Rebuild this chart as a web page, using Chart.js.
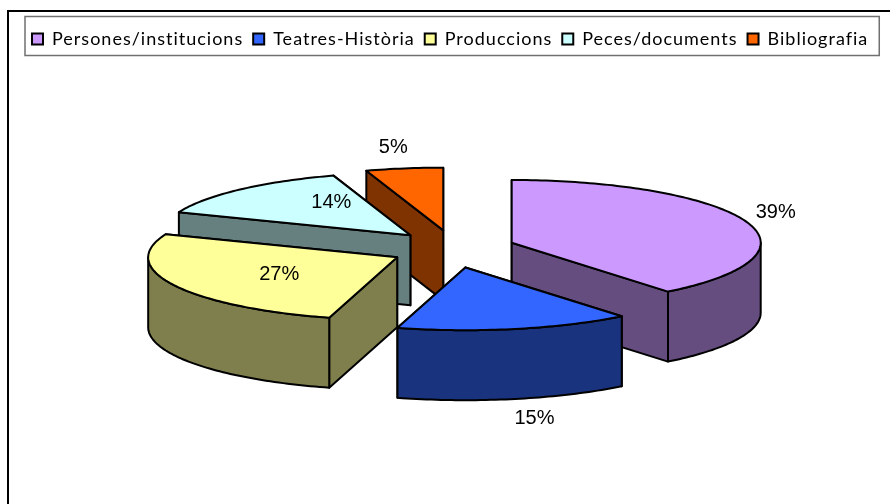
<!DOCTYPE html>
<html><head><meta charset="utf-8">
<style>html,body{margin:0;padding:0;background:#fff}canvas{display:block}</style>
<script src="https://cdn.jsdelivr.net/npm/chart.js@4"></script>
</head><body><canvas id="c" width="890" height="504"></canvas>
<script>
const categories = ['Persones/institucions','Teatres-Història','Produccions','Peces/documents','Bibliografia'];
const values = [39.2,15.2,26.6,14,5];
const topColors = ['#CC99FF','#3366FF','#FFFF99','#CCFFFF','#FF6600'];
const sideColors = ['#664D7F','#19337F','#7F7F4D','#667F7F','#7F3300'];
const labelOffsets = [[264,-30],[69,151],[-118,17],[-79,-33],[-50,-83]];

const RADIUS = 249, TILT = 0.252, DEPTH = 70, EXPLODE_Y = 1.2;

function sliceGeo(el){
  const p = el.getProps(['x','y','startAngle','endAngle','outerRadius'], true);
  const mid = (p.startAngle + p.endAngle)/2;
  const off = (el.options.offset||0)/4;
  const cx = p.x + Math.cos(mid)*off;
  const cy = p.y + Math.sin(mid)*off*TILT*EXPLODE_Y;
  return {cx,cy,r:p.outerRadius,a:p.startAngle,b:p.endAngle};
}
function pt(g,ang,drop){return [g.cx+Math.cos(ang)*g.r, g.cy+Math.sin(ang)*g.r*TILT+(drop||0)];}
function poly(ctx,pts,fill){
  ctx.beginPath();
  pts.forEach((q,i)=> i?ctx.lineTo(q[0],q[1]):ctx.moveTo(q[0],q[1]));
  ctx.closePath();
  ctx.fillStyle=fill;ctx.fill();ctx.stroke();
}
function arcPts(g,a,b,drop){
  const out=[];const n=Math.max(2,Math.ceil((b-a)/0.02));
  for(let i=0;i<=n;i++)out.push(pt(g,a+(b-a)*i/n,drop));
  return out;
}
function drawSlice(ctx,g,i){
  const side=sideColors[i];
  const walls=[g.a,g.b].map(ang=>({ang,y:pt(g,ang)[1]})).sort((u,v)=>u.y-v.y);
  walls.forEach(w=>{
    const e=pt(g,w.ang);
    poly(ctx,[[g.cx,g.cy],e,[e[0],e[1]+DEPTH],[g.cx,g.cy+DEPTH]],side);
  });
  const TWO=Math.PI*2;
  for(let k=-1;k<=1;k++){
    const lo=Math.max(g.a,k*TWO), hi=Math.min(g.b,k*TWO+Math.PI);
    if(hi>lo){
      const topEdge=arcPts(g,lo,hi,0), botEdge=arcPts(g,lo,hi,DEPTH).reverse();
      poly(ctx,topEdge.concat(botEdge),side);
    }
  }
  poly(ctx,[[g.cx,g.cy]].concat(arcPts(g,g.a,g.b,0)),topColors[i]);
}
const LETTER='1px';
const pie3d={
  id:'pie3d',
  beforeLayout(chart){chart.ctx.letterSpacing=LETTER;},
  beforeDraw(chart){
    const ctx=chart.ctx;
    ctx.letterSpacing=LETTER;
    ctx.save();
    ctx.fillStyle='#fff';ctx.fillRect(0,0,890,504);
    ctx.strokeStyle='#000';ctx.lineWidth=2;
    ctx.beginPath();ctx.moveTo(8,504);ctx.lineTo(8,11);ctx.lineTo(890,11);ctx.stroke();
    const hb=chart.legend.legendHitBoxes;
    const left=hb[0].left-7, right=hb[hb.length-1].left+hb[hb.length-1].width+11;
    ctx.strokeStyle='#707070';ctx.lineWidth=1.5;
    ctx.strokeRect(left,16.5,right-left,39);
    ctx.restore();
  },
  beforeDatasetsDraw(chart){
    const ctx=chart.ctx, arcs=chart.getDatasetMeta(0).data;
    ctx.save();
    ctx.letterSpacing='0px';
    ctx.strokeStyle='#000';ctx.lineWidth=2;ctx.lineJoin='round';
    const geos=arcs.map(sliceGeo);
    geos.map((g,i)=>({g,i})).sort((u,v)=>u.g.cy-v.g.cy).forEach(o=>drawSlice(ctx,o.g,o.i));
    ctx.fillStyle='#000';ctx.font='20px "Liberation Sans"';ctx.textAlign='center';ctx.textBaseline='middle';
    const total=values.reduce((s,v)=>s+v,0);
    geos.forEach((g,i)=>{
      ctx.fillText(Math.round(values[i]/total*100)+'%',g.cx+labelOffsets[i][0],g.cy+labelOffsets[i][1]);
    });
    ctx.restore();
    return false;
  }
};
new Chart(document.getElementById('c'),{
  type:'pie',
  data:{labels:categories,datasets:[{data:values,backgroundColor:topColors,borderColor:'#000',borderWidth:2,offset:RADIUS,radius:RADIUS}]},
  options:{
    responsive:false,animation:false,
    radius:RADIUS,
    layout:{padding:{left:22,right:6,top:20,bottom:64}},
    plugins:{
      tooltip:{enabled:false},
      legend:{position:'top',align:'start',labels:{boxWidth:11,boxHeight:11,padding:10,color:'#000',font:{family:'Lato',size:18}}}
    }
  },
  plugins:[pie3d]
});
</script></body></html>
